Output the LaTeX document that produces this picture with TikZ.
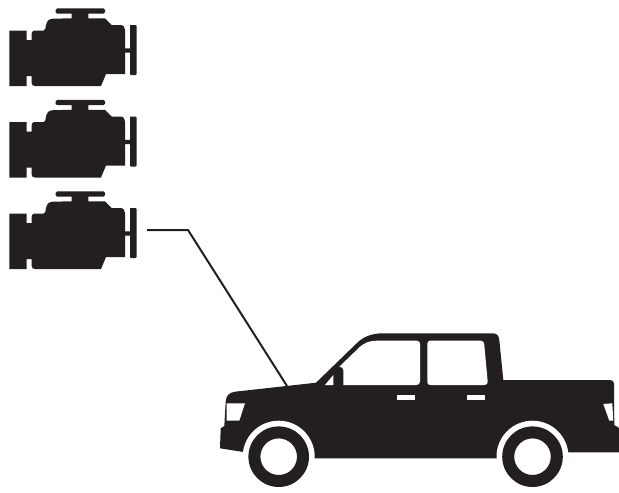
\documentclass[tikz,border=0pt]{standalone}
\usepackage{tikz}
\usetikzlibrary{positioning,calc}
\definecolor{inkblack}{HTML}{231F20}
\begin{document}
\begin{tikzpicture}[
	x=1pt,y=-1pt,
	solid/.style={fill=inkblack,draw=none},
	cutout/.style={fill=white,draw=none},
	link/.style={draw=inkblack,line width=2pt,line join=miter},
	engine/.pic={
		\fill[solid] (9.3,30.5) -- (26.7,30.5) -- (26.7,40) -- (31.7,40) -- (31.7,33.5)
			[rounded corners=1.5pt] -- (32.5,30.5) -- (45,30.5) [sharp corners] -- (46,25)
			.. controls (47,20.5) and (49,19) .. (53,18.7) -- (71.7,18.3) -- (71.7,13.7)
			-- (62,13.7) [rounded corners=1.5pt] -- (55.7,13.7) -- (55.7,8.3) -- (105,8.3) -- (105,13.7)
			[sharp corners] -- (88.3,13.7) -- (88.3,18.3) -- (105,18.3) -- (111.7,25) -- (120,25)
			.. controls (123.5,25) and (125,27) .. (125,30) -- (125,48.3) -- (130,48.3) -- (130,25)
			[rounded corners=1pt] -- (136.7,25) -- (136.7,75) -- (130,75) [sharp corners] -- (130,52.7)
			-- (125,52.7) -- (125,74) -- (106,74) -- (101,86) -- (35,86)
			.. controls (33,86) and (31.7,85) .. (31.7,83) -- (31.7,76) -- (26.7,76) -- (26.7,86)
			-- (9.3,86) -- cycle;
	}
	]
	% engines
	\foreach \row/\shift in {a/0,b/91.5,c/183}{
		\pic (\row) at (0,\shift) {engine};
	}
	% truck body
	\fill[solid] (316,382.7) -- (235,391.7) .. controls (229,392.5) and (226,396) .. (225.7,401.7)
		-- (224.3,426) -- (220.7,428.3) -- (220,448.3) -- (243.3,452) -- (243.3,458.3) -- (496.7,458.3)
		-- (567.3,458.3) -- (567.3,452.3) -- (619,452.3) -- (619,428) -- (614.3,425) -- (614,384)
		.. controls (614,381.5) and (613,380) .. (610,380) -- (503.3,380) -- (499.3,340)
		.. controls (499,336) and (497,333.3) .. (493,333.3) -- (383.3,333.3)
		.. controls (371,333.3) and (363,337) .. (356.7,343.3) -- cycle;
	% wheel arches
	\node[circle,cutout,minimum size=72pt,inner sep=0pt] (archfront) at (278.7,456.7) {};
	\node[circle,cutout,minimum size=72pt,inner sep=0pt] (archrear) at (532.5,456.7) {};
	\foreach \wheel in {archfront,archrear}{
		\fill[solid,even odd rule] (\wheel) circle[radius=30.3pt] (\wheel) circle[radius=18.3pt];
	}
	% windows and lights
	\fill[cutout] (339.3,366.7) -- (360,346.7) .. controls (365,342.5) and (370,340.7) .. (376.7,340.7)
		-- (416.7,340.7) .. controls (419,340.7) and (420,342) .. (420,344) -- (420,381.7)
		.. controls (420,384) and (418.5,385) .. (416,385) -- (343.3,385) -- (343.3,370)
		.. controls (343.3,368) and (341.5,367) .. (339.3,366.7) -- cycle;
	\fill[solid] (339.3,366.7) -- (333.3,366.7) -- (333.3,372) -- (339.3,372) -- cycle;
	\fill[cutout] (325,385) -- (333.3,375) -- (333.3,385) -- cycle;
	\fill[cutout] (430,340.7) -- (480.7,340.7) .. controls (483,340.7) and (484,342) .. (484.2,344)
		-- (487.7,381.7) .. controls (487.9,384) and (486.5,385) .. (484,385) -- (430.5,385)
		.. controls (428.3,385) and (427.3,384) .. (427.3,382) -- (427.3,344)
		.. controls (427.3,342) and (428.3,340.7) .. (430,340.7) -- cycle;
	\fill[cutout] (397.3,395.3) rectangle (415,400);
	\fill[cutout] (466.7,395.3) rectangle (484.7,400);
	\fill[cutout] (226.7,403.3) -- (245,403.3) -- (239.3,420.7) -- (226.7,420.7) -- cycle;
	\fill[cutout] (603.3,404) -- (612.3,403.3) -- (613.3,420.7) -- (609.3,420.7) -- cycle;
	% connector
	\coordinate (start) at (147,230);
	\coordinate (bend) at (188,230);
	\coordinate (hood) at (287,386);
	\draw[link] (start) -- (bend) -- (hood);
	\useasboundingbox (0,0) rectangle (619,491);
\end{tikzpicture}
\end{document}
